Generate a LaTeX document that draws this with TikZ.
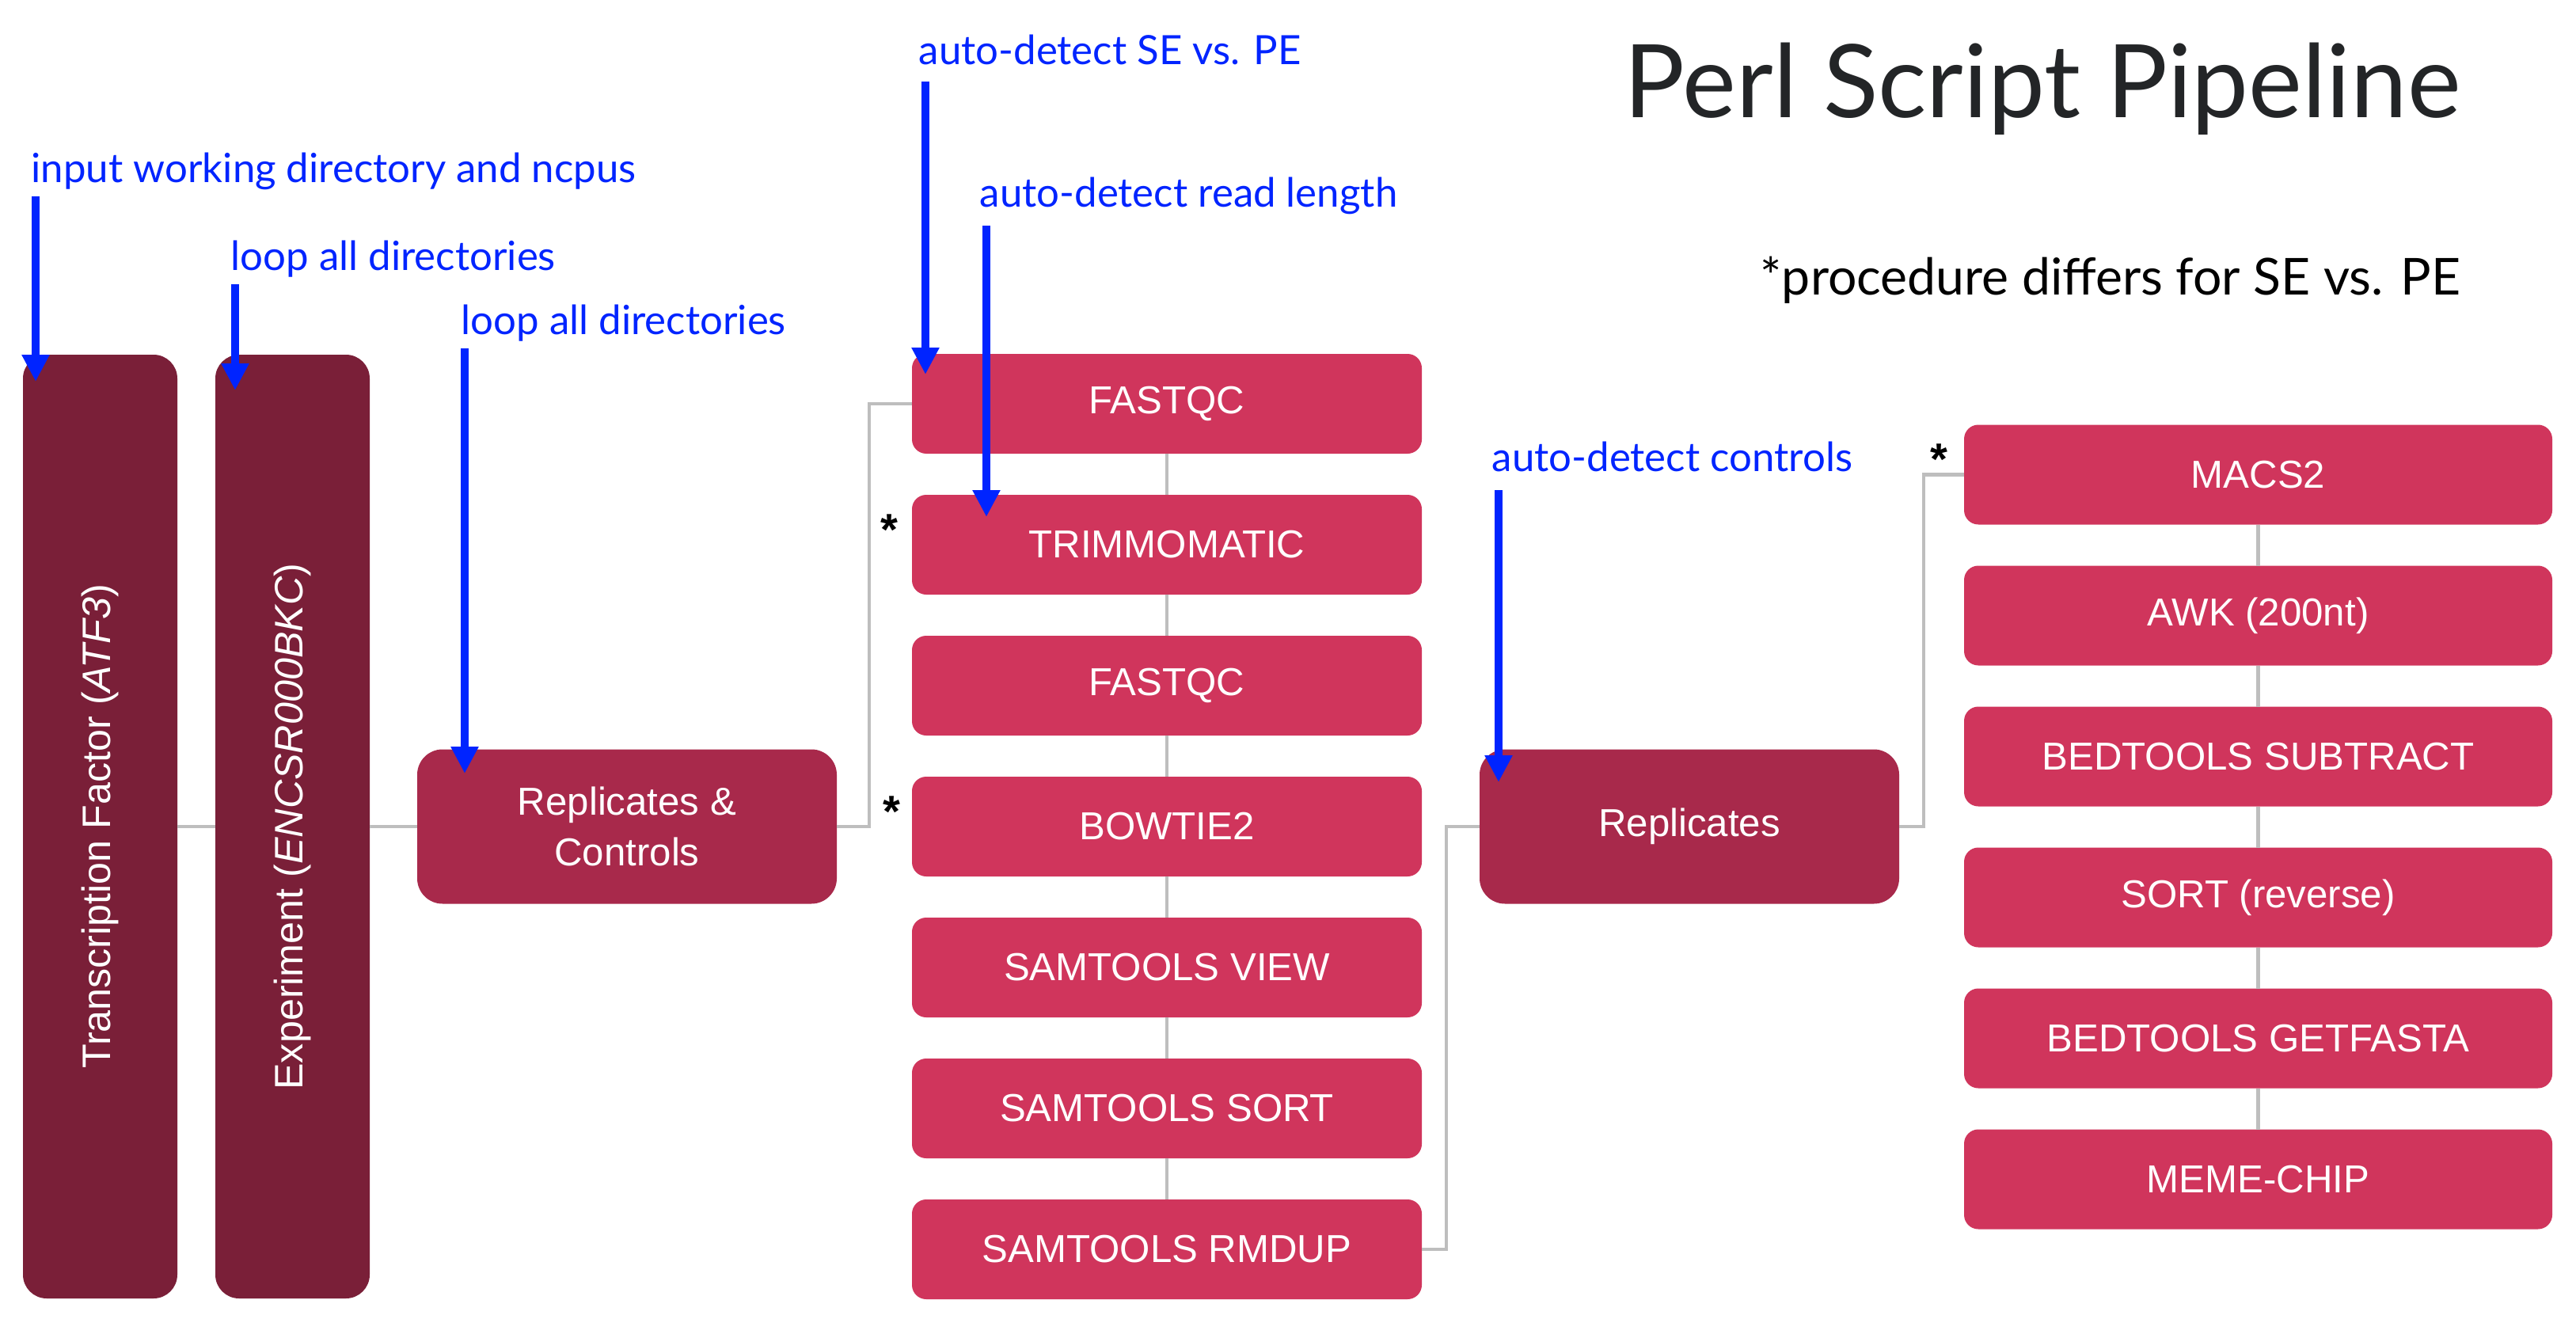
\documentclass[tikz,border=0pt]{standalone}
\usepackage{fontspec}
\setmainfont{Liberation Sans}
\newfontfamily\notefont{Lato}
\usepackage{xcolor}
\usepackage{tikz}
\usetikzlibrary{arrows.meta,positioning,calc}

\definecolor{darkwine}{HTML}{7A1F38}
\definecolor{midwine}{HTML}{A8294B}
\definecolor{rosered}{HTML}{D0355C}
\definecolor{noteblue}{RGB}{0,36,255}
\definecolor{linegray}{HTML}{BEBEBE}
\definecolor{titlegray}{HTML}{232527}

\begin{document}
\begin{tikzpicture}[
    boxlabel/.style={text=white, font=\fontsize{14}{18}\selectfont, align=center, inner sep=0pt, outer sep=0pt},
    tallbox/.style={boxlabel, font=\fontsize{14.3}{18}\selectfont, fill=darkwine, rounded corners=0.3cm, minimum width=11.92cm, minimum height=1.95cm, rotate=90},
    groupbox/.style={boxlabel, fill=midwine, rounded corners=0.32cm, minimum width=5.30cm, minimum height=1.95cm},
    stepbox/.style={boxlabel, fill=rosered, rounded corners=0.18cm, minimum width=6.44cm, minimum height=1.26cm},
    widebox/.style={stepbox, minimum width=7.43cm},
    link/.style={draw=linegray, line width=1.2pt},
    note/.style={text=noteblue, font=\notefont\fontsize{14.5}{16}\selectfont, anchor=base west, inner sep=0pt},
    notearrow/.style={noteblue, line width=3.1pt, -{Triangle[width=0.33cm,length=0.34cm]}},
    starmark/.style={font=\bfseries\fontsize{16}{18}\selectfont, anchor=base, inner sep=0pt},
]
    \useasboundingbox (0,0) rectangle (32.54,-16.66);

    % Title
    \node[font=\notefont\fontsize{36.5}{42}\selectfont, text=titlegray, anchor=base east, inner sep=0pt] (title) at (31.09,-1.49) {Perl Script Pipeline};
    \node[font=\notefont\fontsize{18.3}{22}\selectfont, anchor=base east, inner sep=0pt] (legend) at (31.09,-3.73) {*procedure differs for SE vs. PE};

    % Outer loops
    \node[tallbox] (tf) at (1.265,-10.44) {Transcription Factor (\textit{ATF3})};
    \node[tallbox] (exp) at (3.695,-10.44) {Experiment (\textit{ENCSR000BKC})};
    \node[groupbox] (repctrl) at (7.92,-10.44) {Replicates \&\\Controls};

    % Read processing
    \node[stepbox] (fq1) at (14.74,-5.10) {FASTQC};
    \node[stepbox, below=0.52cm of fq1] (trim) {TRIMMOMATIC};
    \node[stepbox, below=0.52cm of trim] (fq2) {FASTQC};
    \node[stepbox, below=0.52cm of fq2] (bowtie) {BOWTIE2};
    \node[stepbox, below=0.52cm of bowtie] (view) {SAMTOOLS VIEW};
    \node[stepbox, below=0.52cm of view] (sort) {SAMTOOLS SORT};
    \node[stepbox, below=0.52cm of sort] (rmdup) {SAMTOOLS RMDUP};

    % Peak calling
    \node[groupbox] (rep) at (21.34,-10.44) {Replicates};
    \node[widebox] (macs) at (28.525,-5.995) {MACS2};
    \node[widebox, below=0.52cm of macs] (awk) {AWK (200nt)};
    \node[widebox, below=0.52cm of awk] (subtract) {BEDTOOLS SUBTRACT};
    \node[widebox, below=0.52cm of subtract] (rsort) {SORT (reverse)};
    \node[widebox, below=0.52cm of rsort] (getfasta) {BEDTOOLS GETFASTA};
    \node[widebox, below=0.52cm of getfasta] (meme) {MEME-CHIP};

    % SE/PE marks
    \node[starmark] (star1) at ([xshift=-0.29cm]trim.west) {*};
    \node[starmark] (star2) at ([xshift=-0.26cm]bowtie.west) {*};
    \node[starmark] (star3) at ([xshift=-0.32cm]macs.west) {*};

    % Links
    \draw[link] (tf) -- (exp);
    \draw[link] (exp) -- (repctrl);
    \draw[link] (repctrl.east) -- ++(0.41,0) |- (fq1.west);
    \foreach \a/\b in {fq1/trim, trim/fq2, fq2/bowtie, bowtie/view, view/sort, sort/rmdup}
        \draw[link] (\a) -- (\b);
    \draw[link] (rmdup.east) -- ++(0.31,0) |- (rep.west);
    \draw[link] (rep.east) -- ++(0.31,0) |- (macs.west);
    \foreach \a/\b in {macs/awk, awk/subtract, subtract/rsort, rsort/getfasta, getfasta/meme}
        \draw[link] (\a) -- (\b);

    % Annotations
    \node[note] (inputnote) at (0.39,-2.31) {input working directory and ncpus};
    \node[note] (loopnote) at (2.91,-3.42) {loop all directories};
    \node[note] (loopnote2) at (5.82,-4.22) {loop all directories};
    \node[note] (senote) at (11.60,-0.82) {auto-detect SE vs. PE};
    \node[note] (lennote) at (12.37,-2.62) {auto-detect read length};
    \node[note] (ctrlnote) at (18.84,-5.95) {auto-detect controls};

    \coordinate (inputtip) at (0.45,-4.82);
    \coordinate (looptip) at (2.97,-4.93);
    \coordinate (looptip2) at (5.87,-9.77);
    \coordinate (setip) at (11.69,-4.73);
    \coordinate (lentip) at (12.46,-6.53);
    \coordinate (ctrltip) at (18.93,-9.88);

    \draw[notearrow] ($(inputnote.base -| inputtip)+(0,-0.17)$) -- (inputtip);
    \draw[notearrow] ($(loopnote.base -| looptip)+(0,-0.17)$) -- (looptip);
    \draw[notearrow] ($(loopnote2.base -| looptip2)+(0,-0.18)$) -- (looptip2);
    \draw[notearrow] ($(senote.base -| setip)+(0,-0.21)$) -- (setip);
    \draw[notearrow] ($(lennote.base -| lentip)+(0,-0.23)$) -- (lentip);
    \draw[notearrow] ($(ctrlnote.base -| ctrltip)+(0,-0.24)$) -- (ctrltip);
\end{tikzpicture}
\end{document}
